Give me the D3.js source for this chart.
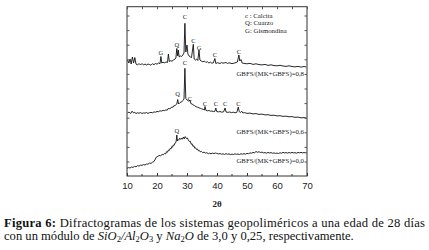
<!DOCTYPE html>
<html>
<head>
<meta charset="utf-8">
<script src="https://cdn.jsdelivr.net/npm/d3@7"></script>
<style>
body{margin:0;background:#fff;}
svg{display:block;font-family:"Liberation Serif","Times New Roman",serif;}
.frame{fill:none;stroke:#333;stroke-width:1;}
.trace{fill:none;stroke:#111;stroke-width:0.9;stroke-linejoin:round;}
.tick text{font-size:9.5px;fill:#222;}
.pk{font-size:6.5px;fill:#222;text-anchor:middle;}
.slabel{font-size:6.8px;fill:#222;text-anchor:end;}
.legend{font-size:6.8px;fill:#222;}
</style>
</head>
<body>
<div id="chart"></div>
<script>
// 2theta (deg) and intensity (a.u.)
var s08=[[10.2,116],[10.6,113],[11,117],[11.4,112],[11.8,119],[12.2,113],[12.6,118.5],[13,112],[13.5,111],[14,112.5],
 [14.5,111],[15,112.5],[15.5,111],[16,112],[16.5,111],[17,112],[17.5,111.5],[18,110.8],[18.5,112.3],[19,111.3],
 [19.5,112.5],[20,111.8],[20.5,113],[21,112.3],[21.3,119.5],[21.6,113],[22,113.8],[22.5,113.2],[23,114],[23.5,113.6],
 [23.8,122],[24.1,114.5],[24.6,115.3],[25,114.8],[25.5,116],[26,117],[26.3,118],[26.6,127.5],[26.9,120],[27.1,126],
 [27.4,119],[27.8,120],[28.2,119.5],[28.6,121],[29,123],[29.3,152.7],[29.6,124],[30,131],[30.3,122],[30.7,120],
 [31.1,119],[31.5,118.5],[32.1,131.7],[32.4,117],[32.8,116],[33.2,117],[33.6,115.5],[34,126],[34.3,116],[34.8,115],
 [35.3,114.2],[35.8,115],[36.3,113.5],[36.8,114.3],[37.3,113],[37.8,113.8],[38.3,112.8],[38.8,113.2],[39.3,117.5],[39.6,112.5],
 [40.2,113.3],[41,112.5],[41.5,113.4],[42,112.8],[43,113.5],[43.5,112.6],[44,113.2],[45,112.4],[46,113.1],[46.8,114],
 [47.3,121],[47.6,115],[48,116.5],[48.4,113],[49,112.6],[50,112.2],[51,112.7],[52,111.6],[53,112.2],[54,111.4],
 [55,111.1],[56,111.6],[57,110.6],[58,111.2],[59,110.4],[60,110.2],[61,110.7],[62,110],[63,109.6],[64,110.2],
 [65,109.5],[66,109.1],[67,109.6],[68,108.9],[69,109.5],[69.8,109]];
var s06=[[10.2,63],[10.7,64],[11.2,62.5],[11.7,64.8],[12.2,63],[12.6,63.6],[13,62.5],[13.5,63.2],[14,62.8],[14.5,63.4],
 [15,62.5],[15.5,63.1],[16,62.8],[16.5,63.5],[17,62.6],[17.5,63.3],[18,63.6],[18.5,63.2],[19,64.1],[19.5,63.8],
 [20,64.6],[20.5,64.3],[21,65.2],[21.5,64.9],[22,65.6],[22.5,65.4],[23,66.2],[23.4,65.8],[23.7,67.4],[24.3,67.3],
 [24.7,68.3],[25,69],[25.3,68.6],[25.6,70.2],[26,70.4],[26.3,71.2],[26.6,72],[26.9,76.5],[27.2,72],[27.6,73.2],
 [28,74],[28.3,74.2],[28.6,75.4],[29,77],[29.3,107.7],[29.6,77.5],[30,76],[30.3,75.6],[30.6,74.6],[31,76],
 [31.3,72.4],[31.7,72],[32,71.2],[32.5,70.4],[33,69.3],[33.5,68.8],[34,68.2],[34.5,67.6],[34.9,67.1],[35.4,66.7],
 [35.8,66],[36,69.5],[36.3,65.6],[36.8,65.2],[37.3,65.5],[37.8,64.8],[38.3,65],[38.8,64.4],[39.3,64.7],[39.6,68],
 [39.9,64.5],[40.5,64.1],[41,64.5],[41.6,63.8],[42.2,64.2],[42.7,68],[43,64],[43.6,63.6],[44.2,64],[44.8,63.4],
 [45.4,63.8],[46,63.2],[46.6,63.6],[47.1,69],[47.4,64.5],[47.8,63.4],[48.2,64.8],[48.6,63],[49.2,63.4],[50,62.6],
 [51,62.9],[52,62.1],[53,62.4],[54,61.6],[55,61.9],[56,61.1],[57,61.3],[58,60.6],[59,60.8],[60,60.1],
 [61,60.3],[62,59.6],[63,59.9],[64,59.2],[65,59.4],[66,58.7],[67,58.9],[68,58.2],[69,58.4],[69.8,57.8]];
var s00=[[10,7.7],[10.5,8.4],[11,8],[11.5,9],[12,8.6],[12.5,9.6],[13,9.2],[13.5,10.3],[14,9.9],[14.5,10.8],
 [15,10.6],[15.5,11.4],[16,11],[16.5,12],[17,11.8],[17.5,12.9],[18,12.6],[18.5,13.8],[18.8,14],[19.3,16],
 [19.8,19],[20.3,19.6],[20.7,20.6],[21.2,20.2],[21.7,21.5],[22.1,21.2],[22.5,22.6],[22.9,22.2],[23.2,24.3],[23.5,23.8],
 [23.8,26],[24.1,25.6],[24.4,27.6],[24.7,27.2],[24.9,29.3],[25.2,28.8],[25.4,31],[25.7,30.6],[26,33],[26.3,33.6],
 [26.4,35],[26.6,41],[26.8,35],[27,36.4],[27.2,35.8],[27.6,37.8],[27.9,36.6],[28.2,38],[28.5,36.8],[28.8,39],
 [29.1,37.2],[29.4,39.4],[29.8,37.5],[30.1,38],[30.4,36.2],[30.8,34.4],[31.1,34.8],[31.4,31.8],[31.7,32.2],[32,29.6],
 [32.3,30.2],[32.6,27.8],[32.9,28.2],[33.2,26.5],[33.5,27],[33.8,25.2],[34.1,25.6],[34.4,24.2],[34.8,24.6],[35.2,23.4],
 [35.7,23.8],[36.2,22.9],[36.6,23.3],[37.1,22.3],[37.5,22.8],[38,22.2],[38.5,22.9],[39,22.4],[39.5,23],[39.9,22.6],
 [40.5,22.1],[41,22.5],[41.5,21.8],[42,22.2],[42.5,21.6],[43,22.3],[43.5,21.7],[44,22.1],[44.5,21.4],[45,21.9],
 [45.5,21.5],[46,22.2],[46.5,21.7],[47,22],[47.5,21.5],[48,22.2],[48.5,21.8],[49,22.3],[49.5,21.9],[50,22.6],
 [50.5,22.3],[51,23.1],[51.5,22.8],[52,23.6],[52.5,23.2],[53,24.5],[53.5,23.7],[54,24.3],[54.5,23.5],[55,23.9],
 [55.5,23.1],[56,23.4],[56.5,22.8],[57,23.6],[57.5,23],[58,23.4],[58.5,22.7],[59,23.1],[59.5,22.6],[60,22.9],
 [60.5,22.5],[61,23.2],[61.5,22.8],[62,23.7],[62.5,23.1],[63,23.4],[63.5,22.9],[64,23.5],[64.5,23],[65,23.6],
 [65.5,23.1],[66,23.3],[66.5,22.8],[67,23.6],[67.5,23.2],[68,23.7],[68.5,23.1],[69,23.5],[69.5,23.2],[69.9,23.4]];

var seriesLabels=["GBFS/(MK+GBFS)=0,8","GBFS/(MK+GBFS)=0,6","GBFS/(MK+GBFS)=0,0"];
var seriesLabelI=[102,44,15];

// peak markers: [2theta, intensity of label, letter]
var peaks=[[21.3,123,"G"],[26.6,131,"Q"],[29.3,159,"C"],[32.1,135,"C"],[34,128,"G"],[39.3,121,"C"],[47.3,124,"C"],
 [26.9,82,"Q"],[29.3,113,"C"],[31,77.7,"C"],[36,72,"C"],[39.6,72,"C"],[42.7,72,"C"],[47.1,72.7,"C"],
 [26.6,45.3,"Q"]];

var legendItems=["c : Calcita","Q:  Cuarzo","G: Gismondina"];
var xTicks=[10,20,30,40,50,60,70];

var W=429,H=250;
var margin={left:127,right:122,top:6.7,bottom:74};
var width=W-margin.left-margin.right;
var height=H-margin.top-margin.bottom;

var svg=d3.select("#chart").append("svg")
    .attr("width",W).attr("height",H);
var g=svg.append("g")
    .attr("transform","translate("+margin.left+","+margin.top+")");

var x=d3.scaleLinear().domain([10,70]).range([0,width]);
var y=d3.scaleLinear().domain([0,169.3]).range([height,0]);

var line=d3.line()
    .x(function(d){return x(d[0]);})
    .y(function(d){return y(d[1]);});

[s08,s06,s00].forEach(function(s){
    g.append("path").attr("class","trace").attr("d",line(s));
});

// frame and ticks
g.append("rect").attr("class","frame").attr("x",0).attr("y",0).attr("width",width).attr("height",height);

var xAxis=d3.axisBottom(x).tickValues(xTicks).tickSize(-3).tickPadding(6).tickFormat(d3.format("d"));
var gx=g.append("g").attr("class","axis").attr("transform","translate(0,"+height+")").call(xAxis);
gx.select(".domain").remove();
gx.selectAll("line").attr("stroke","#333");
var minor=d3.range(15,70,10);
g.selectAll(".xminor").data(minor).enter().append("line")
    .attr("x1",function(d){return x(d);}).attr("x2",function(d){return x(d);})
    .attr("y1",height).attr("y2",height-2).attr("stroke","#333");
var xTop=d3.axisTop(x).tickValues(d3.range(10,71,5)).tickSize(-2.5).tickFormat("");
var gt=g.append("g").call(xTop);
gt.select(".domain").remove();
gt.selectAll("line").attr("stroke","#555");

var yTicks=d3.range(14.5,169,14.6);
var yl=d3.axisLeft(y).tickValues(yTicks).tickSize(-2.5).tickFormat("");
var gyl=g.append("g").call(yl);
gyl.select(".domain").remove();
gyl.selectAll("line").attr("stroke","#555");
var yr=d3.axisRight(y).tickValues(yTicks).tickSize(-2.5).tickFormat("");
var gyr=g.append("g").attr("transform","translate("+width+",0)").call(yr);
gyr.select(".domain").remove();
gyr.selectAll("line").attr("stroke","#555");

// peak letters
g.selectAll(".pk").data(peaks).enter().append("text")
    .attr("class","pk")
    .attr("x",function(d){return x(d[0]);})
    .attr("y",function(d){return y(d[1])+2.3;})
    .text(function(d){return d[2];});

// series labels
g.selectAll(".slabel").data(seriesLabels).enter().append("text")
    .attr("class","slabel")
    .attr("x",width-3)
    .attr("y",function(d,i){return y(seriesLabelI[i])+2.5;})
    .text(function(d){return d;});

// legend
g.selectAll(".legend").data(legendItems).enter().append("text")
    .attr("class","legend")
    .attr("x",118)
    .attr("y",function(d,i){return 11.5+i*7.2;})
    .text(function(d){return d;});

// axis title
g.append("text")
    .attr("x",x(40)).attr("y",height+31)
    .attr("text-anchor","middle")
    .style("font-size","9px").style("font-weight","bold").style("fill","#222")
    .text("2θ");

// caption
var cap=svg.append("text").attr("x",4).attr("y",227).style("font-size","12.6px").style("fill","#111")
    .attr("textLength",421).attr("lengthAdjust","spacing");
cap.append("tspan").style("font-weight","bold").text("Figura 6:");
cap.append("tspan").text(" Difractogramas de los sistemas geopoliméricos a una edad de 28 días");
var cap2=svg.append("text").attr("x",4).attr("y",239.5).style("font-size","12.6px").style("fill","#111");
cap2.append("tspan").text("con un módulo de ");
cap2.append("tspan").style("font-style","italic").text("SiO");
cap2.append("tspan").attr("dy",2).style("font-size","8.5px").text("2");
cap2.append("tspan").attr("dy",-2).style("font-style","italic").text("/Al");
cap2.append("tspan").attr("dy",2).style("font-size","8.5px").text("2");
cap2.append("tspan").attr("dy",-2).style("font-style","italic").text("O");
cap2.append("tspan").attr("dy",2).style("font-size","8.5px").text("3");
cap2.append("tspan").attr("dy",-2).text(" y ");
cap2.append("tspan").style("font-style","italic").text("Na");
cap2.append("tspan").attr("dy",2).style("font-size","8.5px").text("2");
cap2.append("tspan").attr("dy",-2).style("font-style","italic").text("O");
cap2.append("tspan").text(" de 3,0 y 0,25, respectivamente.");
</script>
</body>
</html>
